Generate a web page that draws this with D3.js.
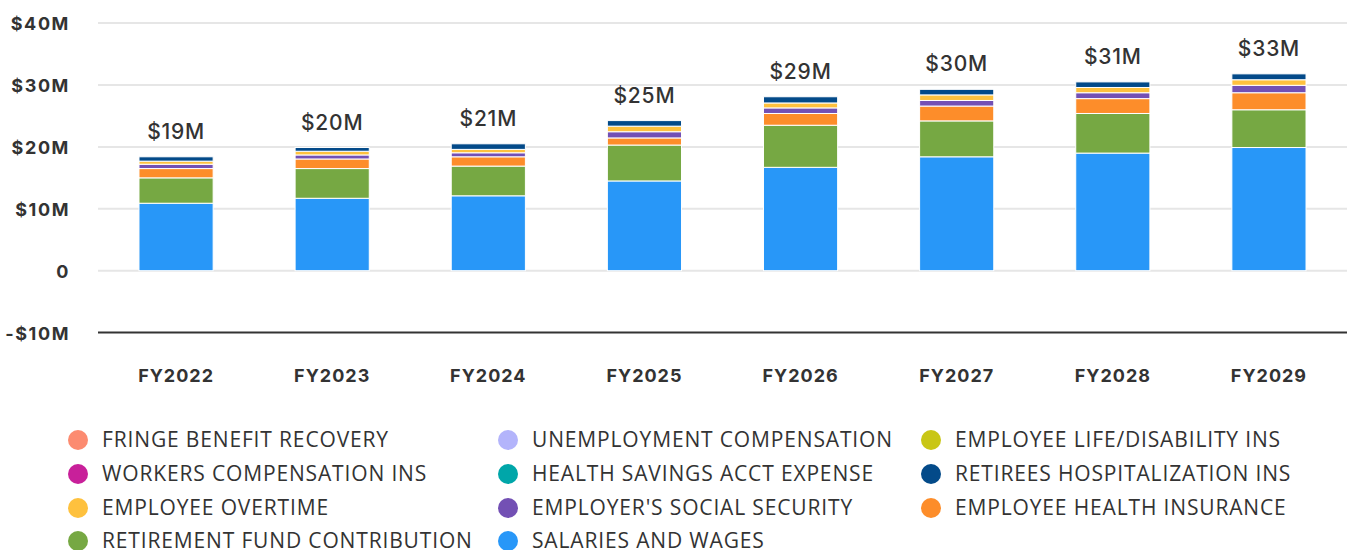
<!DOCTYPE html>
<html><head><meta charset="utf-8">
<script src="https://cdn.jsdelivr.net/npm/d3@7"></script>
<style>
body{margin:0;background:#fff;}
svg{display:block;}
</style></head>
<body>
<svg id="c" width="1347" height="550"></svg>
<script>
const categories = ["FY2022","FY2023","FY2024","FY2025","FY2026","FY2027","FY2028","FY2029"];
const totalLabels = ["$19M","$20M","$21M","$25M","$29M","$30M","$31M","$33M"];
const yTicks = [-10,0,10,20,30,40];
const yTickLabels = ["-$10M","0","$10M","$20M","$30M","$40M"];

// values in $M, stacking order bottom -> top
const salariesAndWages      = [10.9, 11.7, 12.1, 14.5, 16.7, 18.4, 19.0, 19.9];
const retirementFund        = [4.1, 4.8, 4.8, 5.8, 6.8, 5.8, 6.4, 6.1];
const employeeHealthIns     = [1.5, 1.55, 1.5, 1.15, 1.9, 2.4, 2.4, 2.75];
const employerSocialSec     = [0.7, 0.65, 0.65, 1.0, 0.9, 0.9, 0.95, 1.2];
const employeeOvertime      = [0.5, 0.6, 0.55, 0.9, 0.8, 0.9, 0.85, 0.9];
const retireesHospital      = [0.7, 0.6, 0.9, 0.9, 1.0, 0.9, 0.9, 0.95];
const healthSavingsAcct     = [0, 0, 0, 0, 0, 0, 0, 0];
const workersCompIns        = [0, 0, 0, 0, 0, 0, 0, 0];
const employeeLifeDisab     = [0, 0, 0, 0, 0, 0, 0, 0];
const unemploymentComp      = [0, 0, 0, 0, 0, 0, 0, 0];
const fringeBenefitRecovery = [0, 0, 0, 0, 0, 0, 0, 0];

const series = [
  {name:"SALARIES AND WAGES", color:"#2897f8", values:salariesAndWages},
  {name:"RETIREMENT FUND CONTRIBUTION", color:"#76a843", values:retirementFund},
  {name:"EMPLOYEE HEALTH INSURANCE", color:"#fd8d2a", values:employeeHealthIns},
  {name:"EMPLOYER'S SOCIAL SECURITY", color:"#7350b4", values:employerSocialSec},
  {name:"EMPLOYEE OVERTIME", color:"#fec13e", values:employeeOvertime},
  {name:"RETIREES HOSPITALIZATION INS", color:"#034a89", values:retireesHospital},
  {name:"HEALTH SAVINGS ACCT EXPENSE", color:"#00a6a9", values:healthSavingsAcct},
  {name:"WORKERS COMPENSATION INS", color:"#c8209a", values:workersCompIns},
  {name:"EMPLOYEE LIFE/DISABILITY INS", color:"#c9c615", values:employeeLifeDisab},
  {name:"UNEMPLOYMENT COMPENSATION", color:"#b3b4fb", values:unemploymentComp},
  {name:"FRINGE BENEFIT RECOVERY", color:"#fc8b70", values:fringeBenefitRecovery}
];
// legend layout (row-major, 3 columns)
const legendOrder = ["FRINGE BENEFIT RECOVERY","UNEMPLOYMENT COMPENSATION","EMPLOYEE LIFE/DISABILITY INS",
  "WORKERS COMPENSATION INS","HEALTH SAVINGS ACCT EXPENSE","RETIREES HOSPITALIZATION INS",
  "EMPLOYEE OVERTIME","EMPLOYER'S SOCIAL SECURITY","EMPLOYEE HEALTH INSURANCE",
  "RETIREMENT FUND CONTRIBUTION","SALARIES AND WAGES"];

const svg = d3.select("#c");
const left = 98, right = 1347;
const x = d3.scaleBand().domain(categories).range([left, right]).paddingInner(0.525).paddingOuter(0.2625);
const y = d3.scaleLinear().domain([-10, 40]).range([332.6, 23.1]);

// grid
const g = svg.append("g");
g.selectAll("line.grid").data(yTicks.filter(t=>t!==-10)).join("line")
  .attr("x1", left).attr("x2", right)
  .attr("y1", d=>y(d)).attr("y2", d=>y(d))
  .attr("stroke", "#e6e6e6").attr("stroke-width", 2);
g.append("line").attr("x1", left).attr("x2", right)
  .attr("y1", y(-10)).attr("y2", y(-10)).attr("stroke", "#333").attr("stroke-width", 2);

// y labels
const yAxis = d3.axisLeft(y).tickValues(yTicks).tickSize(0).tickPadding(0)
  .tickFormat(d=>yTickLabels[yTicks.indexOf(d)]);
const ya = svg.append("g").attr("transform", "translate(70,0)").call(yAxis);
ya.select(".domain").remove();
ya.selectAll("text").attr("font-family","Inter, 'Open Sans', sans-serif").attr("font-weight",700)
  .attr("font-size",18).attr("letter-spacing","1.6px").attr("fill","#333").attr("dy","0.36em");

// x labels
const xAxis = d3.axisBottom(x).tickSize(0).tickPadding(0);
const xa = svg.append("g").attr("transform","translate(0,376)").call(xAxis);
xa.select(".domain").remove();
xa.selectAll("text").attr("font-family","Inter, 'Open Sans', sans-serif").attr("font-weight",700)
  .attr("font-size",18).attr("letter-spacing","1px").attr("fill","#333").attr("dy","0.35em");

// stack
const table = categories.map((c,i)=>{const o={cat:c}; series.forEach(s=>o[s.name]=s.values[i]); return o;});
const stack = d3.stack().keys(series.map(s=>s.name))(table);
const colorOf = Object.fromEntries(series.map(s=>[s.name,s.color]));
svg.append("g").selectAll("g").data(stack).join("g")
  .attr("fill", d=>colorOf[d.key])
  .selectAll("rect").data(d=>d).join("rect")
  .attr("x", d=>x(d.data.cat)).attr("width", x.bandwidth())
  .attr("y", d=>y(d[1])).attr("height", d=>Math.max(0, y(d[0])-y(d[1])))
  .attr("stroke","#fff").attr("stroke-width",1);

// totals
const tops = categories.map((c,i)=>d3.sum(series, s=>s.values[i]));
svg.append("g").selectAll("text").data(categories).join("text")
  .attr("x", d=>x(d)+x.bandwidth()/2).attr("y", (d,i)=>y(tops[i])-18)
  .attr("text-anchor","middle").attr("font-family","Inter, 'Open Sans', sans-serif")
  .attr("font-size",21).attr("font-weight",500).attr("letter-spacing","0.8px").attr("fill","#333")
  .text((d,i)=>totalLabels[i]);

// legend
const colX = [78, 508, 931], rowY = [440, 474, 508, 541];
const leg = svg.append("g").selectAll("g").data(legendOrder).join("g")
  .attr("transform",(d,i)=>`translate(${colX[i%3]},${rowY[Math.floor(i/3)]})`);
leg.append("circle").attr("r",10).attr("fill",d=>colorOf[d]);
leg.append("text").attr("x",24).attr("dy","0.35em")
  .attr("font-family","'Open Sans', sans-serif").attr("font-size",21).attr("letter-spacing","0.85px").attr("fill","#333")
  .text(d=>d);
</script>
</body></html>
